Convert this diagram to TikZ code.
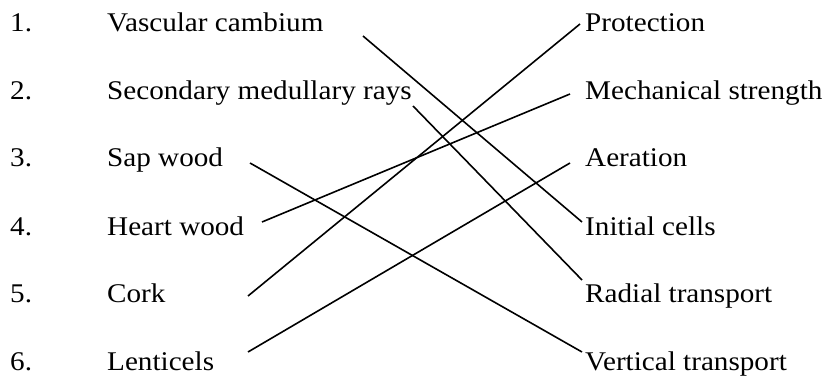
\documentclass[tikz,border=0pt]{standalone}
\usepackage{fontspec}
\setmainfont{Liberation Serif}
\begin{document}
\begin{tikzpicture}[x=1pt,y=-1pt,
  lbl/.style={anchor=base west,inner sep=0pt,xscale=1.08,font=\fontsize{27}{32}\selectfont},
  link/.style={line width=1.6pt,line cap=butt}]
\useasboundingbox (0,0) rectangle (827,377);
% left column
\foreach \i/\t/\y in {1/Vascular cambium/32,2/Secondary medullary rays/100,3/Sap wood/167,4/Heart wood/235,5/Cork/302,6/Lenticels/370}{
  \node[lbl] (n\i) at (10,\y) {\i.};
  \node[lbl] (l\i) at (107,\y) {\t};
}
% right column
\node[lbl] (r1) at (585,32) {Protection};
\node[lbl] (r2) at (585,100) {Mechanical strength};
\node[lbl] (r3) at (585,167) {Aeration};
\node[lbl] (r4) at (585,235) {Initial cells};
\node[lbl] (r5) at (585,302) {Radial transport};
\node[lbl] (r6) at (585,370) {Vertical transport};
% connector ends
\coordinate (a1) at (363,36);  \coordinate (b1) at (582,222);
\coordinate (a2) at (413,106); \coordinate (b2) at (582,280);
\coordinate (a3) at (250,163); \coordinate (b3) at (582,352);
\coordinate (a4) at (262,222); \coordinate (b4) at (570,94);
\coordinate (a5) at (248,296); \coordinate (b5) at (580,24);
\coordinate (a6) at (248,352); \coordinate (b6) at (570,163);
\foreach \k in {1,...,6}{\draw[link] (a\k) -- (b\k);}
\end{tikzpicture}
\end{document}
